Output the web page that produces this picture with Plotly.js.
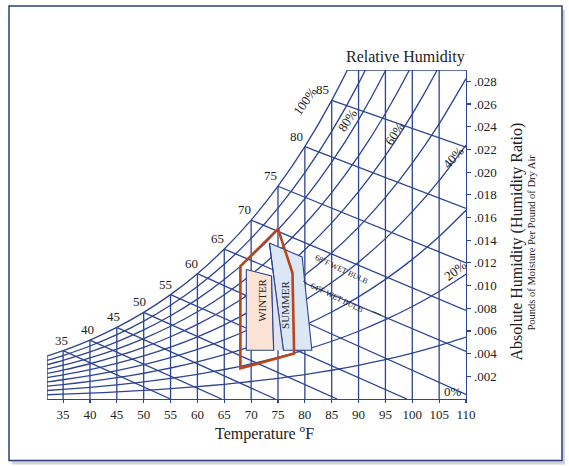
<!DOCTYPE html>
<html>
<head>
<meta charset="utf-8">
<script src="https://cdn.plot.ly/plotly-3.0.1.min.js"></script>
<style>html,body{margin:0;padding:0;background:#fff;}#chart{width:569px;height:466px;}</style>
</head>
<body>
<div id="chart"></div>
<script>
// Dry-bulb temperatures (°F) at which curve values are read
const temps = [32,35,40,45,50,55,60,65,70,75,80,85,90,95,100,105,110];
// Humidity ratio (lb/lb) along each relative humidity curve
const rh100 = [0.003775,0.004261,0.005195,0.006309,0.007632,0.009201,0.011044,0.013217,0.015768,0.018755,0.022245,0.026319,0.031064,0.036587,0.043007,0.050467,0.059155];
const rh90 = [0.003395,0.003832,0.004672,0.005672,0.006861,0.008268,0.009922,0.011870,0.014155,0.016829,0.019950,0.023587,0.027819,0.032737,0.038442,0.045055,0.052739];
const rh80 = [0.003016,0.003404,0.004149,0.005037,0.006091,0.007339,0.008804,0.010529,0.012551,0.014914,0.017670,0.020878,0.024606,0.028930,0.033938,0.039729,0.046441];
const rh70 = [0.002638,0.002976,0.003628,0.004403,0.005323,0.006412,0.007690,0.009193,0.010954,0.013011,0.015407,0.018192,0.021424,0.025167,0.029494,0.034488,0.040260];
const rh60 = [0.002259,0.002549,0.003107,0.003770,0.004557,0.005488,0.006580,0.007863,0.009366,0.011119,0.013159,0.015529,0.018273,0.021448,0.025110,0.029328,0.034193];
const rh50 = [0.001882,0.002123,0.002587,0.003138,0.003793,0.004567,0.005473,0.006539,0.007785,0.009238,0.010927,0.012887,0.015154,0.017771,0.020786,0.024250,0.028236];
const rh40 = [0.001504,0.001697,0.002068,0.002508,0.003031,0.003648,0.004371,0.005220,0.006213,0.007369,0.008711,0.010267,0.012064,0.014137,0.016518,0.019250,0.022385];
const rh30 = [0.001128,0.001272,0.001550,0.001879,0.002270,0.002732,0.003272,0.003907,0.004648,0.005510,0.006511,0.007669,0.009004,0.010542,0.012307,0.014327,0.016639];
const rh20 = [0.000751,0.000847,0.001032,0.001252,0.001512,0.001819,0.002178,0.002599,0.003091,0.003663,0.004325,0.005091,0.005974,0.006989,0.008151,0.009478,0.010994];
const rh10 = [0.000375,0.000423,0.000516,0.000625,0.000755,0.000908,0.001087,0.001297,0.001542,0.001826,0.002155,0.002535,0.002973,0.003475,0.004049,0.004703,0.005449];

// Wet-bulb lines: start on saturation, end where read on the chart
const wbTemps = [35,40,45,50,55,60,65,70,75,80,85];
const wbEndT = [55,64.5,74.5,86,99,110,110,110,110,110,110];
const wbEndW = [0,0,0,0,0,0.0004,0.0042,0.0078,0.0120,0.0168,0.0222];

// Chart top edge (humidity ratio) and the temperature where it meets saturation
const topW = 0.029;
const topStartT = 87.8;

// Comfort zone outline and the winter / summer zones
const comfortT = [75, 77.7, 78, 68, 68, 75];
const comfortW = [0.0150, 0.0111, 0.0040, 0.0027, 0.0117, 0.0150];
const winterT = [69.1, 73.8, 74.2, 69.1, 69.1];
const winterW = [0.01141, 0.01084, 0.0043, 0.0043, 0.01141];
const summerT = [73.4, 79.5, 81.3, 76.0, 73.4];
const summerW = [0.01375, 0.01252, 0.0043, 0.0043, 0.01375];
const overlapT = [73.8, 74.2, 76.0, 74.2, 73.8];
const overlapW = [0.01084, 0.0043, 0.0043, 0.01084, 0.01084];
// short visible pieces of the 64°F wet bulb line
const wb64T = [79.7, 80.4, null, 92.7, 94.2];
const wb64W = [0.0104, 0.0102, null, 0.0077, 0.0074];

// Tick labels
const xTicks = [35,40,45,50,55,60,65,70,75,80,85,90,95,100,105,110];
const yTicks = [0.002,0.004,0.006,0.008,0.010,0.012,0.014,0.016,0.018,0.020,0.022,0.024,0.026,0.028];
const yTickText = ['.002','.004','.006','.008','.010','.012','.014','.016','.018','.020','.022','.024','.026','.028'];

// Relative humidity labels
const rhLabels = ['100%','80%','60%','40%','20%','0%'];
const rhLabelT = [80.2, 87.85, 96.8, 107.6, 108.0, 107.6];
const rhLabelW = [0.02627, 0.02459, 0.02336, 0.02133, 0.01137, 0.00062];
const rhLabelAngle = [-55, -57, -56, -47, -37, 0];

const BLUE = '#2d4394';
const SERIF = '"Liberation Serif", "DejaVu Serif", serif';
const TXT = '#222222';

function satAt(t){ return rh100[temps.indexOf(t)]; }

// Build grid line traces
const gx = [], gy = [];
temps.forEach((t, i) => { if (t < 110) { gx.push(t, t, null); gy.push(0, rh100[i], null); } });
wbTemps.forEach((t, i) => { gx.push(t, wbEndT[i], null); gy.push(satAt(t), wbEndW[i], null); });
gx.push(topStartT, 110, null); gy.push(topW, topW, null);

const rhSets = [rh100, rh90, rh80, rh70, rh60, rh50, rh40, rh30, rh20, rh10];
const cx = [], cy = [];
rhSets.forEach(arr => { temps.forEach((t, i) => { cx.push(t); cy.push(arr[i]); }); cx.push(null); cy.push(null); });

const traces = [
  {x: gx, y: gy, mode: 'lines', line: {color: BLUE, width: 1.3}, hoverinfo: 'skip', connectgaps: false},
  {x: cx, y: cy, mode: 'lines', line: {color: BLUE, width: 1.3, shape: 'spline', smoothing: 0.6}, hoverinfo: 'skip', connectgaps: false},
  {x: winterT, y: winterW, mode: 'lines', fill: 'toself', fillcolor: '#fbe4d5', line: {color: BLUE, width: 1.1}, hoverinfo: 'skip'},
  {x: summerT, y: summerW, mode: 'lines', fill: 'toself', fillcolor: '#dce7f6', line: {color: BLUE, width: 1.1}, hoverinfo: 'skip'},
  {x: overlapT, y: overlapW, mode: 'lines', fill: 'toself', fillcolor: '#e1e4ee', line: {color: BLUE, width: 0}, hoverinfo: 'skip'},
  {x: [summerT[0], summerT[3]], y: [summerW[0], summerW[3]], mode: 'lines', line: {color: BLUE, width: 1.1}, hoverinfo: 'skip'},
  {x: [winterT[1], winterT[2]], y: [winterW[1], winterW[2]], mode: 'lines', line: {color: BLUE, width: 1.1}, hoverinfo: 'skip'},
  {x: comfortT, y: comfortW, mode: 'lines', line: {color: '#b9461b', width: 2.6}, hoverinfo: 'skip'},
  {x: wb64T, y: wb64W, mode: 'lines', line: {color: '#333', width: 1}, hoverinfo: 'skip', connectgaps: false}
];

const annotations = [];
wbTemps.forEach(t => {
  annotations.push({x: t, y: satAt(t), xref: 'x', yref: 'y', text: String(t), showarrow: false,
    xanchor: 'right', yanchor: 'bottom', xshift: 7 - (t - 35) * 0.16, yshift: 1,
    font: {family: SERIF, size: 13, color: TXT}});
});
rhLabels.forEach((s, i) => {
  annotations.push({x: rhLabelT[i], y: rhLabelW[i], xref: 'x', yref: 'y', text: s, showarrow: false,
    xanchor: 'center', yanchor: 'middle',
    textangle: rhLabelAngle[i], font: {family: SERIF, size: 13, color: TXT}});
});
const C = {xanchor: 'center', yanchor: 'middle', showarrow: false};
annotations.push(
  Object.assign({x: 72.0, y: 0.00873, xref: 'x', yref: 'y', text: 'WINTER', textangle: -90, font: {family: SERIF, size: 11, color: TXT}}, C),
  Object.assign({x: 76.3, y: 0.00829, xref: 'x', yref: 'y', text: 'SUMMER', textangle: -90, font: {family: SERIF, size: 11, color: TXT}}, C),
  Object.assign({x: 87.0, y: 0.01146, xref: 'x', yref: 'y', text: '68<sup>o</sup>F WET BULB', textangle: 25.5, font: {family: SERIF, size: 8, color: TXT}}, C),
  Object.assign({x: 86.0, y: 0.00895, xref: 'x', yref: 'y', text: '64<sup>o</sup>F WET BULB', textangle: 25.8, font: {family: SERIF, size: 8, color: TXT}}, C),
  Object.assign({x: 0.8568, y: 1.0395, xref: 'paper', yref: 'paper', text: 'Relative Humidity', font: {family: SERIF, size: 16, color: TXT}}, C),
  Object.assign({x: 1.1217, y: 0.4787, xref: 'paper', yref: 'paper', text: 'Absolute Humidity (Humidity Ratio)', textangle: -90, font: {family: SERIF, size: 16, color: TXT}}, C),
  Object.assign({x: 1.1575, y: 0.4757, xref: 'paper', yref: 'paper', text: 'Pounds of Moisture Per Pound of Dry Air', textangle: -90, font: {family: SERIF, size: 10.5, color: TXT}}, C),
  Object.assign({x: 0.5179, y: -0.1033, xref: 'paper', yref: 'paper', text: 'Temperature <sup>o</sup>F', font: {family: SERIF, size: 16, color: TXT}}, C)
);

const layout = {
  width: 569, height: 466,
  margin: {l: 47, r: 103, t: 70, b: 67, pad: 0},
  paper_bgcolor: '#ffffff', plot_bgcolor: 'rgba(0,0,0,0)',
  showlegend: false,
  xaxis: {range: [32, 110], tickvals: xTicks, ticks: 'outside', ticklen: 3, tickcolor: BLUE, tickwidth: 1.2,
    showline: true, linecolor: BLUE, linewidth: 1.3, showgrid: false, zeroline: false, fixedrange: true,
    tickfont: {family: SERIF, size: 13, color: TXT}},
  yaxis: {range: [0, topW], side: 'right', tickvals: yTicks, ticktext: yTickText, ticks: 'outside', ticklen: 4,
    tickcolor: BLUE, tickwidth: 1.2, showline: true, linecolor: BLUE, linewidth: 1.3, showgrid: false, zeroline: false,
    fixedrange: true, tickfont: {family: SERIF, size: 13, color: TXT}},
  shapes: [
    {type: 'rect', xref: 'paper', yref: 'paper', x0: -0.0835, x1: 1.2363, y0: 1.182, y1: -0.199, layer: 'below', fillcolor: '#cfd2d8', line: {width: 0}},
    {type: 'rect', xref: 'paper', yref: 'paper', x0: -0.0907, x1: 1.2291, y0: 1.1945, y1: -0.1869, layer: 'below', fillcolor: '#ffffff', line: {color: '#2b3f7e', width: 1.5}}
  ],
  annotations: annotations
};

Plotly.newPlot('chart', traces, layout, {staticPlot: true, displayModeBar: false});
</script>
</body>
</html>
